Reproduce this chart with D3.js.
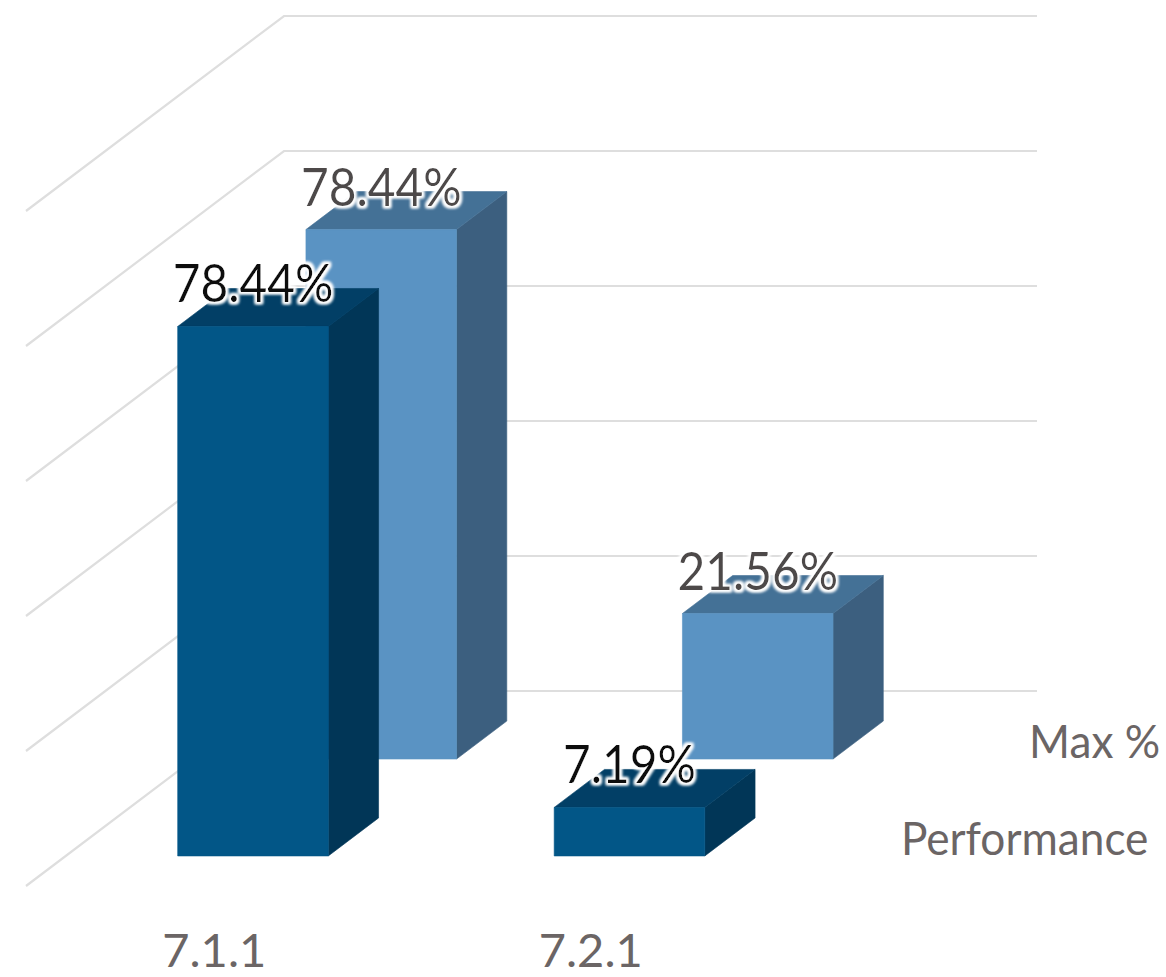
<!DOCTYPE html>
<html>
<head>
<meta charset="utf-8">
<script src="https://cdn.jsdelivr.net/npm/d3@7"></script>
<style>
  html, body { margin: 0; padding: 0; background: #fff; }
  svg { display: block; font-family: Lato, "Open Sans", sans-serif; }
</style>
</head>
<body>
<script>
// chart values
const categories = ["7.1.1", "7.2.1"];
const seriesNames = ["Performance", "Max %"];
const performance = [78.44, 7.19];
const maxPercent = [78.44, 21.56];
const gridTicks = [0, 20, 40, 60, 80, 100];

const width = 1166, height = 977;

// floor of the 3d box, in page pixels
const floorLeft = 26, floorRight = 779, floorFront = 886;
const depthX = 258, depthY = 195;

const x = d3.scaleBand().domain(categories).range([floorLeft - 1, floorRight - 1])
    .paddingInner(0.6).paddingOuter(0.3);
const z = d3.scaleBand().domain(seriesNames).range([0, 1])
    .paddingInner(0.608).paddingOuter(0.31);
const y = d3.scaleLinear().domain([0, 100]).range([0, 675]);

// page position of a point: px along the floor, value up, dz into the chart
const project = (px, v, dz) => [px + dz * depthX, floorFront - y(v) - dz * depthY];
const line = d3.line();
const closed = pts => line(pts) + "Z";

const svg = d3.select("body").append("svg")
    .attr("width", width)
    .attr("height", height)
    .attr("viewBox", `0 0 ${width} ${height}`);

// white halo with a faint blue rim around the data labels
const defs = svg.append("defs");
const halo = defs.append("filter").attr("id", "halo")
    .attr("x", "-15%").attr("y", "-25%").attr("width", "130%").attr("height", "150%");
halo.append("feMorphology").attr("in", "SourceAlpha").attr("operator", "dilate")
    .attr("radius", 2.4).attr("result", "fat");
halo.append("feGaussianBlur").attr("in", "fat").attr("stdDeviation", 1.8).attr("result", "soft");
halo.append("feFlood").attr("flood-color", "#fff");
halo.append("feComposite").attr("in2", "soft").attr("operator", "in").attr("result", "white");
const merge = halo.append("feMerge");
merge.append("feMergeNode").attr("in", "white");
merge.append("feMergeNode").attr("in", "white");
merge.append("feMergeNode").attr("in", "SourceGraphic");

// gridlines: back wall then down the side wall
svg.append("g")
    .attr("fill", "none")
    .attr("stroke", "#dedede")
    .attr("stroke-width", 2.2)
  .selectAll("path")
  .data(gridTicks)
  .join("path")
    .attr("d", t => line([project(floorLeft, t, 0), project(floorLeft, t, 1), project(floorRight, t, 1)]));

const styles = {
  "Performance": { front: "#025687", top: "#023f66", side: "#013657", label: "#111111" },
  "Max %": { front: "#5a93c3", top: "#447196", side: "#3c5f7f", label: "#4d4949" }
};

const bars = [];
seriesNames.forEach((s, i) => {
  const vals = i === 0 ? performance : maxPercent;
  categories.forEach((c, j) => bars.push({ series: s, category: c, value: vals[j] }));
});

// far series first so the near one overlaps it
const drawOrder = bars.slice().sort((a, b) => z(b.series) - z(a.series));

const barG = svg.append("g").selectAll("g")
  .data(drawOrder)
  .join("g")
    .attr("stroke-width", 0.6);

const corners = d => {
  const x0 = x(d.category), x1 = x0 + x.bandwidth();
  const z0 = z(d.series), z1 = z0 + z.bandwidth();
  return { x0, x1, z0, z1 };
};

barG.append("path")
    .attr("fill", d => styles[d.series].side)
    .attr("stroke", d => styles[d.series].side)
    .attr("d", d => {
      const c = corners(d);
      return closed([project(c.x1, 0, c.z0), project(c.x1, d.value, c.z0), project(c.x1, d.value, c.z1), project(c.x1, 0, c.z1)]);
    });
barG.append("path")
    .attr("fill", d => styles[d.series].top)
    .attr("stroke", d => styles[d.series].top)
    .attr("d", d => {
      const c = corners(d);
      return closed([project(c.x0, d.value, c.z0), project(c.x0, d.value, c.z1), project(c.x1, d.value, c.z1), project(c.x1, d.value, c.z0)]);
    });
barG.append("path")
    .attr("fill", d => styles[d.series].front)
    .attr("stroke", d => styles[d.series].front)
    .attr("d", d => {
      const c = corners(d);
      return closed([project(c.x0, 0, c.z0), project(c.x0, d.value, c.z0), project(c.x1, d.value, c.z0), project(c.x1, 0, c.z0)]);
    });

// Lato runs wider than the original face, squeeze the text to fit
const squeeze = (sel, ratio) => sel
    .attr("lengthAdjust", "spacingAndGlyphs")
    .attr("textLength", function() { return this.getComputedTextLength() * ratio; });

// data labels
svg.append("g")
    .attr("text-anchor", "middle")
    .attr("font-size", 52)
    .attr("filter", "url(#halo)")
  .selectAll("text")
  .data(drawOrder)
  .join("text")
    .attr("fill", d => styles[d.series].label)
    .attr("x", d => project(x(d.category) + x.bandwidth() / 2, d.value, z(d.series))[0])
    .attr("y", d => project(x(d.category) + x.bandwidth() / 2, d.value, z(d.series))[1] - 24)
    .text(d => d.value.toFixed(2) + "%")
    .call(squeeze, 0.92);

// category labels along the front edge
svg.append("g")
    .attr("text-anchor", "middle")
    .attr("font-size", 47)
    .attr("fill", "#6b6565")
  .selectAll("text")
  .data(categories)
  .join("text")
    .attr("x", c => x(c) + x.bandwidth() / 2 + 1)
    .attr("y", floorFront + 81)
    .text(c => c);

// series labels along the depth edge
svg.append("g")
    .attr("font-size", 46)
    .attr("fill", "#6b6565")
  .selectAll("text")
  .data(seriesNames)
  .join("text")
    .attr("x", s => project(floorRight, 0, z(s) + z.bandwidth() / 2)[0] + 57)
    .attr("y", s => project(floorRight, 0, z(s) + z.bandwidth() / 2)[1] + 18)
    .text(s => s)
    .call(squeeze, 0.96);
</script>
</body>
</html>
